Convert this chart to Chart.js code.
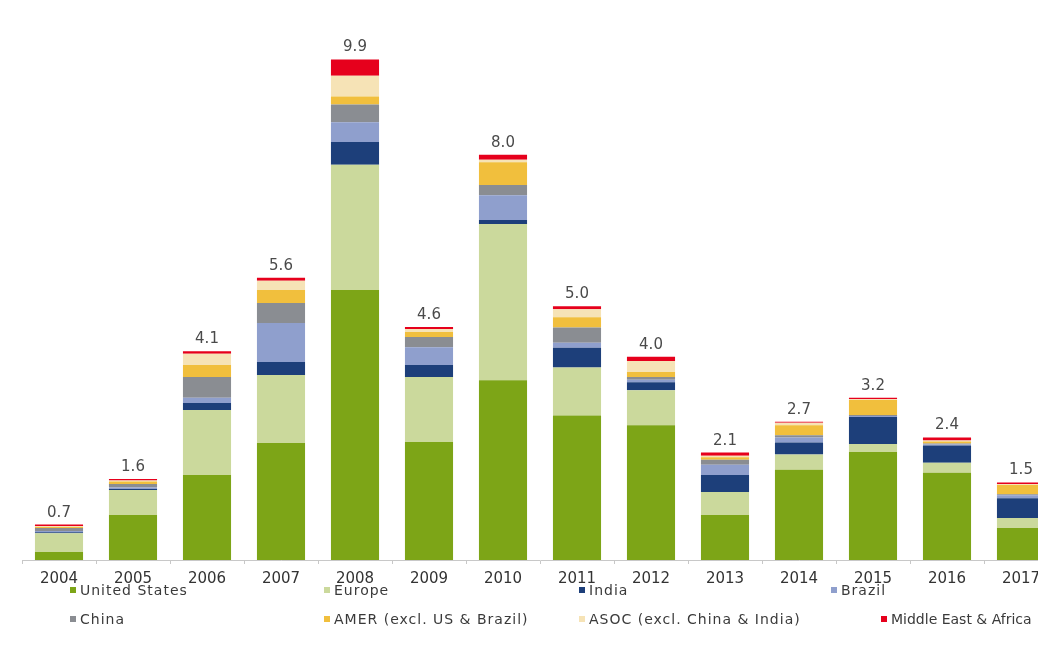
<!DOCTYPE html>
<html>
<head>
<meta charset="utf-8">
<script src="https://cdn.jsdelivr.net/npm/chart.js@4"></script>
<style>
  body { margin: 0; background: #fff; }
  #wrap { position: relative; width: 1038px; height: 663px; overflow: hidden; }
  #box { position: absolute; left: 0; top: 0; width: 1080px; height: 600px; }
  #legenda { position: absolute; left: 0; top: 0; width: 1038px; height: 663px; pointer-events: none;
    font-family: "DejaVu Sans", sans-serif; font-size: 14px; color: #3a3a3a; letter-spacing: 1px; }
  .item { position: absolute; white-space: nowrap; line-height: 18px; }
  .item i { display: inline-block; width: 6px; height: 6px; margin-right: 4px; vertical-align: 2px; }
</style>
</head>
<body>
<div id="wrap">
  <div id="box"><canvas id="grafico" width="1080" height="600"></canvas></div>
  <div id="legenda"></div>
</div>
<script>
const years = ['2004','2005','2006','2007','2008','2009','2010','2011','2012','2013','2014','2015','2016','2017'];
const totals = [0.7, 1.6, 4.1, 5.6, 9.9, 4.6, 8.0, 5.0, 4.0, 2.1, 2.7, 3.2, 2.4, 1.5];

const unitedStates = [0.16, 0.89, 1.68, 2.31, 5.33, 2.33, 3.55, 2.85, 2.66, 0.89, 1.78, 2.13, 1.72, 0.63];
const europe       = [0.37, 0.49, 1.28, 1.34, 2.47, 1.28, 3.08, 0.95, 0.69, 0.45, 0.30, 0.16, 0.20, 0.20];
const india        = [0.02, 0.02, 0.14, 0.26, 0.45, 0.24, 0.08, 0.39, 0.16, 0.34, 0.24, 0.53, 0.34, 0.39];
const brazil       = [0.02, 0.03, 0.10, 0.77, 0.39, 0.35, 0.49, 0.10, 0.05, 0.20, 0.10, 0.02, 0.02, 0.06];
const china        = [0.06, 0.07, 0.41, 0.39, 0.35, 0.20, 0.20, 0.30, 0.05, 0.10, 0.04, 0.02, 0.02, 0.02];
const amer         = [0.02, 0.05, 0.24, 0.26, 0.16, 0.10, 0.45, 0.20, 0.10, 0.05, 0.20, 0.30, 0.04, 0.18];
const asoc         = [0.02, 0.02, 0.22, 0.18, 0.41, 0.06, 0.05, 0.16, 0.22, 0.03, 0.05, 0.02, 0.02, 0.02];
const mea          = [0.03, 0.03, 0.05, 0.06, 0.32, 0.04, 0.10, 0.06, 0.08, 0.06, 0.02, 0.02, 0.06, 0.03];

const seriesNames = ['United States', 'Europe', 'India', 'Brazil', 'China',
  'AMER (excl. US & Brazil)', 'ASOC (excl. China & India)', 'Middle East & Africa'];
const seriesData = [unitedStates, europe, india, brazil, china, amer, asoc, mea];
const seriesColors = ['#7da517', '#cbd99c', '#1d3f7a', '#8f9fcd', '#8a8d92', '#f1bf3d', '#f6e3b6', '#e6001c'];

// posicoes da legenda (grade de 4 colunas, 2 linhas)
const legendX = [70, 324, 579, 831, 70, 324, 579, 881];
const legendY = [581, 581, 581, 581, 610, 610, 610, 610];

// rotulo do total em cima de cada barra
const totalLabels = {
  id: 'totalLabels',
  afterDatasetsDraw(chart) {
    const { ctx, scales: { x, y } } = chart;
    ctx.save();
    ctx.font = '15px "DejaVu Sans", sans-serif';
    ctx.fillStyle = '#4a4a4a';
    ctx.textAlign = 'center';
    ctx.textBaseline = 'alphabetic';
    years.forEach((yr, i) => {
      const soma = seriesData.reduce((acc, s) => acc + s[i], 0);
      ctx.fillText(totals[i].toFixed(1), x.getPixelForValue(i), y.getPixelForValue(soma) - 8);
    });
    ctx.restore();
  }
};

new Chart(document.getElementById('grafico').getContext('2d'), {
  type: 'bar',
  data: {
    labels: years,
    datasets: seriesNames.map((nome, k) => ({
      label: nome,
      data: seriesData[k],
      backgroundColor: seriesColors[k],
      borderWidth: 0,
      categoryPercentage: 1,
      barPercentage: 0.65
    }))
  },
  options: {
    responsive: false,
    animation: false,
    layout: { padding: { left: 22, right: 22, top: 28, bottom: 0 } },
    scales: {
      x: {
        stacked: true,
        afterFit(scale) { scale.height = 40; },
        grid: { display: true, drawOnChartArea: false, drawTicks: true, tickLength: 4, offset: true, color: '#c8c8c8' },
        border: { display: true, color: '#c8c8c8' },
        ticks: { color: '#333', padding: 6, font: { family: '"DejaVu Sans", sans-serif', size: 15 } }
      },
      y: { stacked: true, display: false, min: 0, max: 10.5 }
    },
    plugins: {
      legend: { display: false },
      tooltip: { enabled: false }
    }
  },
  plugins: [totalLabels]
});

const leg = document.getElementById('legenda');
seriesNames.forEach((nome, k) => {
  const d = document.createElement('div');
  d.className = 'item';
  d.style.left = legendX[k] + 'px';
  d.style.top = legendY[k] + 'px';
  if (k === seriesNames.length - 1) d.style.letterSpacing = '0px';
  const m = document.createElement('i');
  m.style.background = seriesColors[k];
  d.appendChild(m);
  d.appendChild(document.createTextNode(nome));
  leg.appendChild(d);
});
</script>
</body>
</html>
